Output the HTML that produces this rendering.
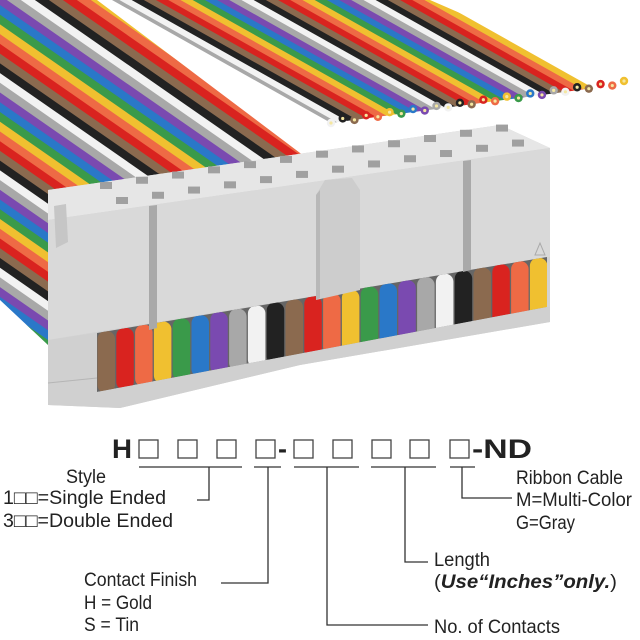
<!DOCTYPE html>
<html><head><meta charset="utf-8"><style>
html,body{margin:0;padding:0;background:#fff;width:640px;height:640px;overflow:hidden}
svg{display:block}
text{font-family:"Liberation Sans Narrow","Liberation Sans",sans-serif;fill:#222}
</style></head><body>
<svg id="s" width="640" height="640" viewBox="0 0 640 640" xmlns="http://www.w3.org/2000/svg">
<defs>
<clipPath id="cTop"><polygon points="112,0 430,0 624,84 331,123"/></clipPath>
<clipPath id="cLeft"><polygon points="0,0 97,0 320,168 48,200 48,345 0,300"/></clipPath>
<clipPath id="cRing"><polygon points="97,333 547,257 547,307 97,392"/></clipPath>
</defs>
<g id="gLeft" clip-path="url(#cLeft)"></g>
<g id="gTop" clip-path="url(#cTop)"></g>
<g id="gEnds"></g>
<!-- connector -->
<polygon points="48,190 500,125 550,148 550,322 300,365 120,408 48,405" fill="#d2d2d2"/>
<polygon points="48,190 500,125 550,148 48,220" fill="#e6e6e6"/>
<polygon points="48,220 550,148 550,257 48,340" fill="#d9d9d9"/>
<g id="gHoles" fill="#a0a0a0"></g>
<polygon points="97,333 547,257 547,307 97,392" fill="#666"/>
<g id="gRing" clip-path="url(#cRing)"></g>
<polygon points="48,340 97,333 97,392 547,307 550,307 550,322 300,365 120,408 48,405" fill="#d0d0d0"/>
<line x1="48" y1="383" x2="97" y2="378" stroke="#b5b5b5" stroke-width="1"/>
<!-- grooves -->
<polygon points="149,206 157,205 157,328 149,330" fill="#a9a9a9"/>
<polygon points="463,161 471,160 471,270 463,272" fill="#a9a9a9"/>
<!-- left latch -->
<polygon points="54,206 66,204 68,242 56,248" fill="#c6c6c6"/>
<!-- center latch -->
<polygon points="316,195 325,180 352,178 360,190 360,290 316,300" fill="#cdcdcd"/>
<polygon points="316,195 320,190 320,298 316,300" fill="#b8b8b8"/>
<polygon points="535,255 540,243 545,255" fill="none" stroke="#aaa" stroke-width="1"/>

<!-- part number -->
<text x="112" y="458" font-size="27" font-weight="bold" font-family="Liberation Sans" textLength="20" lengthAdjust="spacingAndGlyphs">H</text>
<g fill="none" stroke="#444" stroke-width="1.3">
<rect x="139" y="440" width="19" height="18"/><rect x="178" y="440" width="19" height="18"/><rect x="217" y="440" width="19" height="18"/><rect x="256" y="440" width="19" height="18"/>
<rect x="294" y="440" width="19" height="18"/><rect x="333" y="440" width="19" height="18"/><rect x="372" y="440" width="19" height="18"/><rect x="410" y="440" width="19" height="18"/><rect x="450" y="440" width="19" height="18"/>
</g>
<text x="278" y="458" font-size="27" font-weight="bold" font-family="Liberation Sans">-</text>
<text x="472" y="458" font-size="27" font-weight="bold" font-family="Liberation Sans" textLength="60" lengthAdjust="spacingAndGlyphs">-ND</text>
<g stroke="#333" stroke-width="1.3" fill="none">
<line x1="139" y1="467" x2="242" y2="467"/><line x1="254" y1="467" x2="281" y2="467"/><line x1="294" y1="467" x2="359" y2="467"/><line x1="371" y1="467" x2="436" y2="467"/><line x1="450" y1="467" x2="475" y2="467"/>
<polyline points="209,467 209,500 197,500"/>
<polyline points="268,467 268,583 221,583"/>
<polyline points="327,467 327,625 428,625"/>
<polyline points="405,467 405,562 428,562"/>
<polyline points="462,467 462,498 512,498"/>
</g>
<g font-size="19">
<text x="66" y="483" textLength="40" lengthAdjust="spacingAndGlyphs">Style</text>
<text x="3" y="504" textLength="163" lengthAdjust="spacingAndGlyphs">1□□=Single Ended</text>
<text x="3" y="527" textLength="170" lengthAdjust="spacingAndGlyphs">3□□=Double Ended</text>
<text x="84" y="586" textLength="113" lengthAdjust="spacingAndGlyphs">Contact Finish</text>
<text x="84" y="609" textLength="68" lengthAdjust="spacingAndGlyphs">H = Gold</text>
<text x="84" y="631" textLength="55" lengthAdjust="spacingAndGlyphs">S = Tin</text>
<text x="434" y="566" textLength="56" lengthAdjust="spacingAndGlyphs">Length</text>
<text x="434" y="588" textLength="183" lengthAdjust="spacingAndGlyphs">(<tspan font-weight="bold" font-style="italic">Use“Inches”only.</tspan>)</text>
<text x="434" y="633" textLength="126" lengthAdjust="spacingAndGlyphs">No. of Contacts</text>
<text x="516" y="484" textLength="107" lengthAdjust="spacingAndGlyphs">Ribbon Cable</text>
<text x="516" y="506" textLength="116" lengthAdjust="spacingAndGlyphs">M=Multi-Color</text>
<text x="516" y="529" textLength="59" lengthAdjust="spacingAndGlyphs">G=Gray</text>
</g>
</svg>
<script>
var NS="http://www.w3.org/2000/svg";
var C=["#f0c030","#ee6a45","#d9231f","#8b6a4f","#222222","#f2f2f2","#a8a8a8","#7a4ab0","#2a78c8","#3a9a4a"];
function el(p,t,a){var e=document.createElementNS(NS,t);for(var k in a)e.setAttribute(k,a[k]);p.appendChild(e);return e;}
var gT=document.getElementById("gTop");
for(var i=0;i<28;i++){var x=430-i*12.2;el(gT,"line",{x1:x-100*0.872,y1:-100*0.49,x2:x+400*0.872,y2:400*0.49,stroke:C[i%10],"stroke-width":6.5});}
var gL=document.getElementById("gLeft");
for(var i=0;i<50;i++){var x=97-i*14,y=0;el(gL,"line",{x1:x-200*0.82,y1:y-200*0.57,x2:x+700*0.82,y2:y+700*0.57,stroke:C[i%10],"stroke-width":9});}
var gE=document.getElementById("gEnds");
for(var i=0;i<26;i++){var t=i/25;var x=331+t*293,y=123-t*39;if(i%2)y-=3;var c=C[(25-i)%10];
el(gE,"circle",{cx:x,cy:y,r:4.2,fill:c});el(gE,"circle",{cx:x,cy:y,r:1.6,fill:"#f5e7a0"});}
var gH=document.getElementById("gHoles");
for(var i=0;i<12;i++){var x=100+i*36,y=186-i*36*0.145;el(gH,"rect",{x:x,y:y-4,width:12,height:7});
var x2=116+i*36,y2=201-i*36*0.145;if(x2<540)el(gH,"rect",{x:x2,y:y2-4,width:12,height:7});}
var gR=document.getElementById("gRing");
var RC=["#8b6a4f","#d9231f","#ee6a45","#f0c030","#3a9a4a","#2a78c8","#7a4ab0","#a8a8a8","#f2f2f2","#222222"];
for(var i=0;i<24;i++){var x=97+i*18.8;var yt=333-(x-97)*0.169;el(gR,"rect",{x:x+0.5,y:yt-2,width:17.5,height:62,rx:8,fill:RC[i%10]});}
</script>
</body></html>
